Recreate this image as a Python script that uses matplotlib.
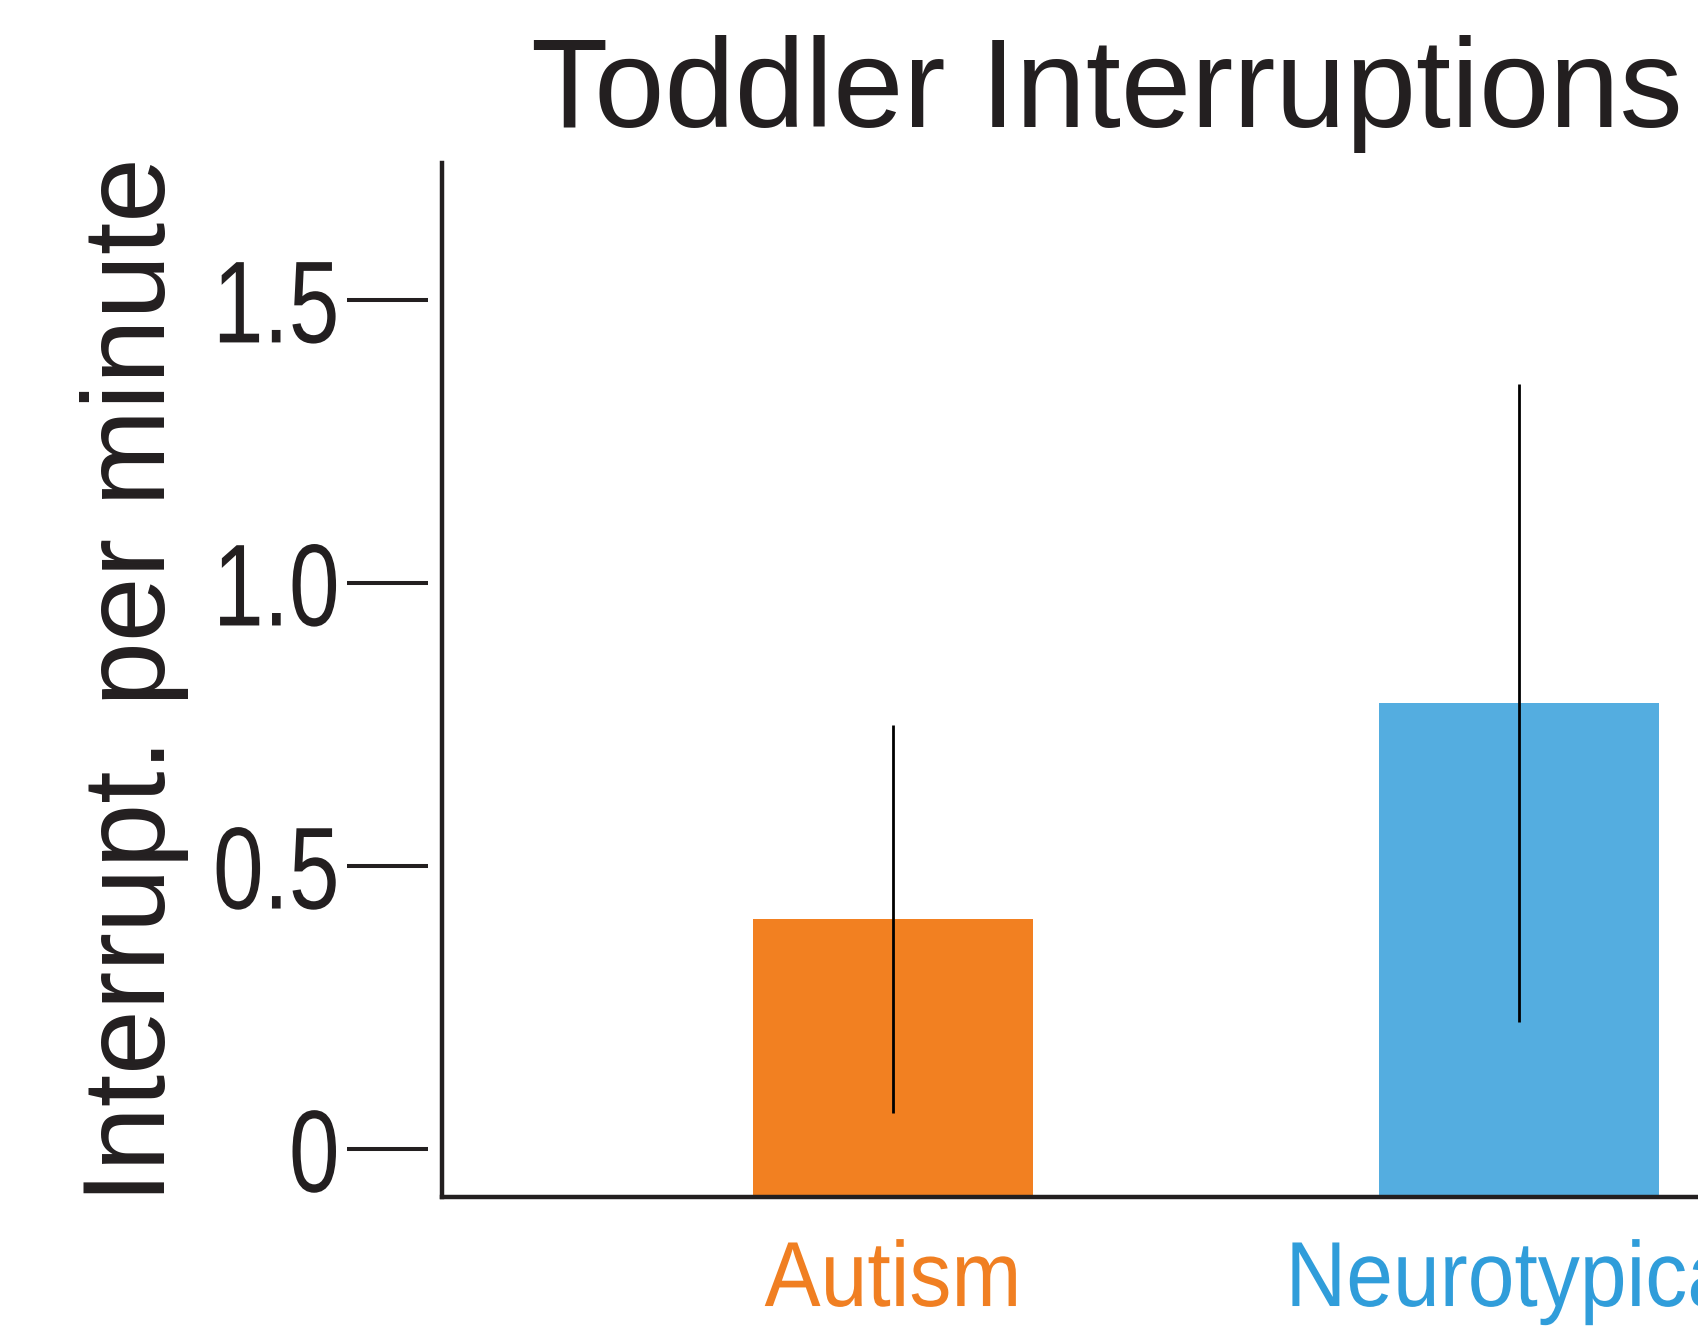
import numpy as np
import matplotlib.pyplot as plt
from matplotlib import patheffects
from matplotlib.transforms import Affine2D

groups = ["Autism", "Neurotypical"]
means = [0.407, 0.788]
errs = [0.343, 0.564]
yticks = [0, 0.5, 1.0, 1.5]
ytick_labels = ["0", "0.5", "1.0", "1.5"]

ink = "#231F20"
bar_colors = ["#F28021", "#54ADE0"]
label_colors = ["#F07F22", "#309DDA"]


class Condense(patheffects.AbstractPathEffect):
    # squeeze glyphs sideways (no condensed font installed)
    def __init__(self, sx, anchor="right"):
        super().__init__()
        self.sx = sx
        self.anchor = anchor

    def draw_path(self, renderer, gc, tpath, affine, rgbFace=None):
        ext = tpath.get_extents()
        x0 = ext.x1 if self.anchor == "right" else (ext.x0 + ext.x1) / 2
        t = Affine2D().translate(-x0, 0).scale(self.sx, 1).translate(x0, 0) + affine
        renderer.draw_path(gc, tpath, t, rgbFace)


fig = plt.figure(figsize=(16.98, 13.28), dpi=100)
ax = fig.add_axes([0.2602, 0.0989, 0.85, 0.778])

ymin, ymax = -0.084, 1.741
x = np.arange(len(groups))
ax.bar(x, np.array(means) - ymin, bottom=ymin, width=0.448, color=bar_colors, zorder=1)
ax.errorbar(x, means, yerr=errs, fmt="none", ecolor="black", elinewidth=2, capsize=0, zorder=2)

ax.set_xlim(-0.7215, 1.585)
ax.set_ylim(ymin, ymax)

# axis line drawn by hand so the ticks can float left of it
for s in ["top", "right"]:
    ax.spines[s].set_visible(False)
ax.spines["left"].set_position(("outward", 10))
ax.spines["left"].set_visible(False)
ax.spines["bottom"].set_linewidth(3.2)
ax.spines["bottom"].set_color(ink)
ax.plot([0, 0], [0, 1], transform=ax.transAxes, color=ink, lw=3.2,
        clip_on=False, solid_capstyle="projecting", zorder=3)

ax.set_yticks(yticks)
ax.set_yticklabels(ytick_labels, family="Liberation Sans", fontsize=84, color=ink)
for lab in ax.get_yticklabels():
    lab.set_path_effects([Condense(0.78, "right")])
ax.tick_params(axis="y", length=58, width=2.9, color=ink, pad=5)

ax.set_xticks(x)
ax.set_xticklabels(groups, family="Liberation Sans", fontsize=66.5)
for lab, c in zip(ax.get_xticklabels(), label_colors):
    lab.set_color(c)
    lab.set_path_effects([Condense(0.91, "center")])
ax.tick_params(axis="x", length=0, pad=30.5)

ax.set_ylabel("Interrupt. per minute", family="Liberation Sans", fontsize=83.7, color=ink)
ax.yaxis.set_label_coords(-0.175, 0.5)

fig.text(0.3125, 0.904, "Toddler Interruptions", family="Liberation Sans",
         fontsize=91, color=ink, ha="left", va="baseline")

fig.savefig("out.png", dpi=100)
